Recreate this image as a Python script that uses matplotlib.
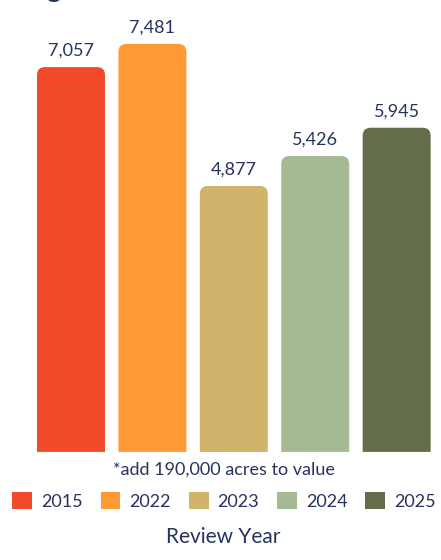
import matplotlib
matplotlib.use("Agg")
import matplotlib.pyplot as plt
from matplotlib.patches import PathPatch, Patch
from matplotlib.path import Path

# data
years = ["2015", "2022", "2023", "2024", "2025"]
acres = [7057, 7481, 4877, 5426, 5945]
bar_colours = ["#F04A2A", "#FF9933", "#D2B36B", "#A5BA93", "#626E4A"]

TEXT = "#25345F"
plt.rcParams["font.family"] = ["Lato", "DejaVu Sans"]

fig = plt.figure(figsize=(4.41, 5.60), dpi=100)
ax = fig.add_axes([0.0687, 0.193, 0.923, 0.779])
ymax = 8000
ax.set_xlim(-0.5, len(years) - 0.5)
ax.set_ylim(0, ymax)
ax.axis("off")

width = 0.835
# rounded top corners: radius in pixels -> data units
r_px = 8
rx = r_px * len(years) / (0.923 * 441)
ry = r_px * ymax / (0.779 * 560)


def rounded_top(x0, x1, top):
    verts = [(x0, 0), (x0, top - ry), (x0, top), (x0 + rx, top),
             (x1 - rx, top), (x1, top), (x1, top - ry), (x1, 0), (x0, 0)]
    codes = [Path.MOVETO, Path.LINETO, Path.CURVE3, Path.CURVE3,
             Path.LINETO, Path.CURVE3, Path.CURVE3, Path.LINETO,
             Path.CLOSEPOLY]
    return Path(verts, codes)


bars = ax.bar(range(len(years)), acres, width=width, color=bar_colours,
              linewidth=0)
for rect, v, c in zip(bars, acres, bar_colours):
    x0 = rect.get_x()
    x1 = x0 + rect.get_width()
    rect.set_visible(False)
    ax.add_patch(PathPatch(rounded_top(x0, x1, rect.get_height()),
                           facecolor=c, edgecolor="none"))
    ax.annotate(f"{v:,}", (x0 + rect.get_width() / 2, v), xytext=(0, 6),
                textcoords="offset points", ha="center", va="bottom",
                fontsize=13, color=TEXT)

# clipped title remnant at top
fig.text(0.105, 1 + 3.5 / 560, "g", fontsize=20, color=TEXT, va="baseline",
         ha="left", fontweight="bold")

fig.text(0.508, 1 - 470 / 560, "*add 190,000 acres to value", ha="center",
         va="center", fontsize=13, color=TEXT)

handles = [Patch(facecolor=c, edgecolor="none", label=y)
           for y, c in zip(years, bar_colours)]
fig.legend(handles=handles, loc="center", ncol=5,
           bbox_to_anchor=(0.508, 1 - 501 / 560), frameon=False,
           fontsize=13, handlelength=1.1, handleheight=1.1,
           handletextpad=0.5, columnspacing=0.98, borderpad=0,
           labelcolor=TEXT)

fig.text(0.506, 1 - 537 / 560, "Review Year", ha="center", va="center",
         fontsize=15, color=TEXT)

fig.savefig("out.png", dpi=100, facecolor="white")
